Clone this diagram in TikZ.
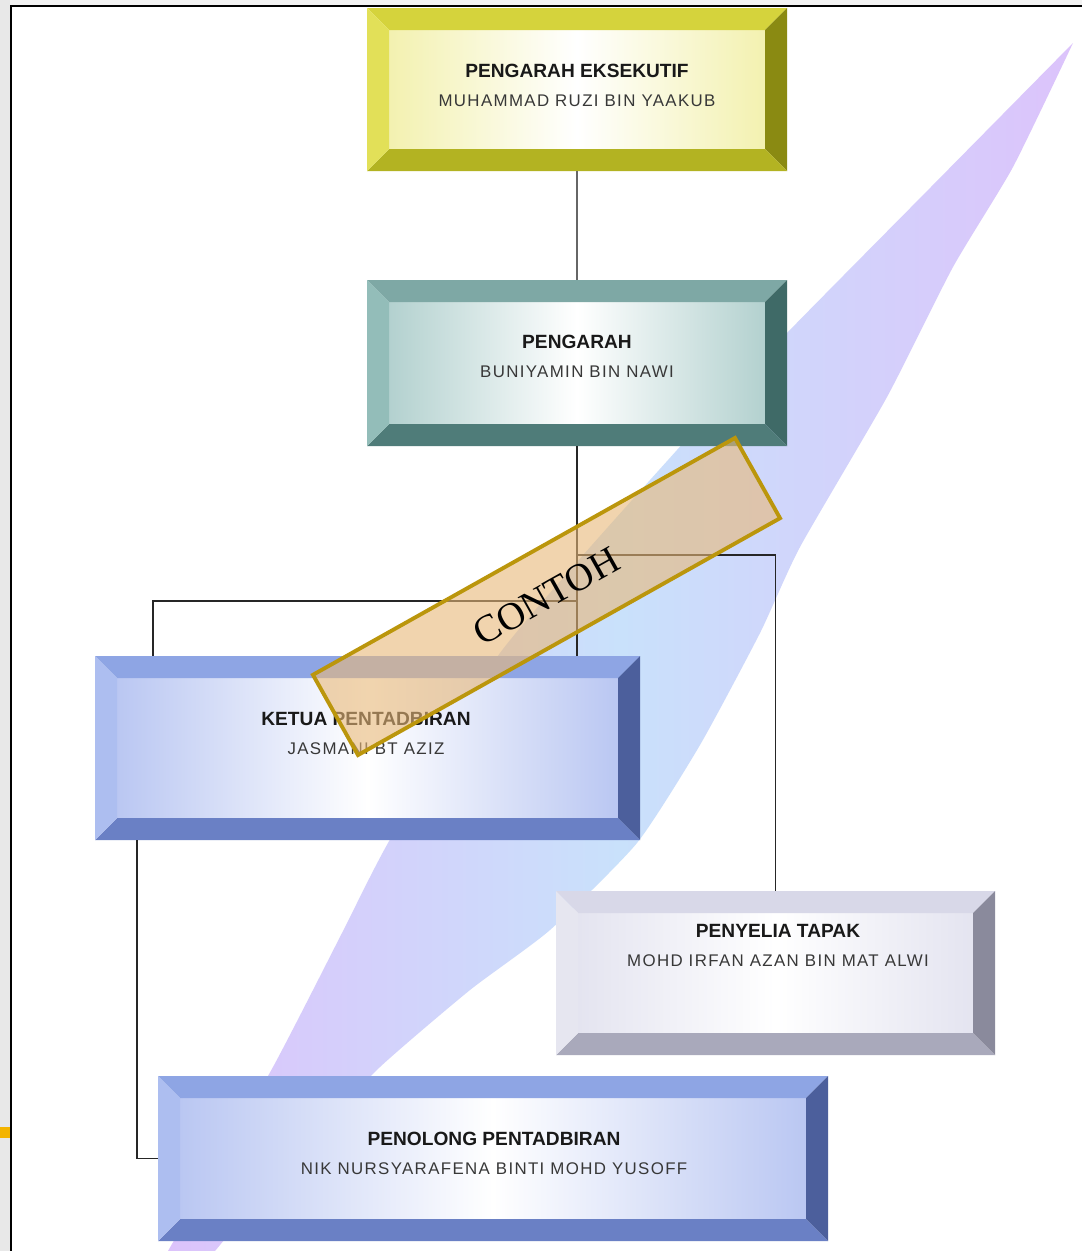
\documentclass[tikz,border=0pt]{standalone}
\usepackage{fontspec}
\setmainfont{Liberation Sans}
\newfontfamily\namefont[LetterSpace=8]{Liberation Sans}
\newfontfamily\stampfont{Liberation Serif}
\usetikzlibrary{calc}

\definecolor{peTop}{HTML}{D5D33C}
\definecolor{peLeft}{HTML}{E2E058}
\definecolor{peRight}{HTML}{8A8A12}
\definecolor{peBot}{HTML}{B3B322}
\definecolor{peTint}{HTML}{F3F1B0}
\definecolor{pgTop}{HTML}{7EA8A5}
\definecolor{pgLeft}{HTML}{93BDB9}
\definecolor{pgRight}{HTML}{3F6A67}
\definecolor{pgBot}{HTML}{4F7C79}
\definecolor{pgTint}{HTML}{B3D1CF}
\definecolor{ktTop}{HTML}{8EA5E4}
\definecolor{ktLeft}{HTML}{ADBEF0}
\definecolor{ktRight}{HTML}{4C5F9C}
\definecolor{ktBot}{HTML}{6A80C5}
\definecolor{ktTint}{HTML}{BAC7F2}
\definecolor{pyTop}{HTML}{D8D8E8}
\definecolor{pyLeft}{HTML}{E6E6F0}
\definecolor{pyRight}{HTML}{8A8A9C}
\definecolor{pyBot}{HTML}{A9A9BB}
\definecolor{pyTint}{HTML}{E4E4F0}
\definecolor{ribBlue}{HTML}{C9E1FB}
\definecolor{ribPurple}{HTML}{DCC3FB}
\definecolor{stampGold}{HTML}{BB960C}
\definecolor{stampFill}{HTML}{E8B878}
\definecolor{tabMark}{HTML}{F4B400}

\tikzset{
  bevelbox/.style n args={5}{
    rectangle, inner sep=0pt,
    path picture={
      \path (path picture bounding box.north west) coordinate (bb-nw)
            (path picture bounding box.north east) coordinate (bb-ne)
            (path picture bounding box.south east) coordinate (bb-se)
            (path picture bounding box.south west) coordinate (bb-sw);
      \shade[left color=#5, right color=#5, middle color=white]
        ($(bb-nw)+(22,22)$) rectangle ($(bb-se)+(-22,-22)$);
      \fill[#1] (bb-nw) -- (bb-ne) -- ($(bb-ne)+(-22,22)$) -- ($(bb-nw)+(22,22)$) -- cycle;
      \fill[#3] (bb-ne) -- (bb-se) -- ($(bb-se)+(-22,-22)$) -- ($(bb-ne)+(-22,22)$) -- cycle;
      \fill[#4] (bb-se) -- (bb-sw) -- ($(bb-sw)+(22,-22)$) -- ($(bb-se)+(-22,-22)$) -- cycle;
      \fill[#2] (bb-sw) -- (bb-nw) -- ($(bb-nw)+(22,22)$) -- ($(bb-sw)+(22,-22)$) -- cycle;
    }
  },
  size/.style 2 args={minimum width=#1*0.02cm, minimum height=#2*0.02cm},
}
\newcommand{\person}[1]{{\namefont\fontsize{9.6}{16.5}\selectfont\color{black!78}#1}}

\begin{document}
\begin{tikzpicture}[x=0.02cm,y=-0.02cm]
  \useasboundingbox (0,0) rectangle (1082,1251);
  \fill[white] (0,0) rectangle (1082,1251);
  \fill[black!9] (0,0) rectangle (10,1251);
  \fill[black!5] (10,0) rectangle (1082,5);
  \fill[tabMark] (0,1127) rectangle (10,1138);
  \draw[line width=1.1pt] (11,1251) -- (11,6) -- (1082,6);

  \shade[left color=ribPurple, right color=ribPurple, middle color=ribBlue]
    plot[smooth, tension=0.35] coordinates {(1073,43) (930,188) (787,333) (677,450)
      (500,653) (388,843) (342,933) (273,1067) (168,1251)}
    -- plot[smooth, tension=0.35] coordinates {(215,1251) (300,1150) (380,1067) (470,990)
      (550,930) (637,843) (700,745) (760,633) (800,547) (887,397) (953,267) (1013,167) (1073,43)}
    -- cycle;

  \begin{scope}[
    caption/.style={align=center, text=black!90,
      font=\fontsize{10.9}{16.5}\selectfont},
    ]
    \node[bevelbox={peTop}{peLeft}{peRight}{peBot}{peTint}, size={420}{163}] (pe) at (577,89.5) {};
    \node[bevelbox={pgTop}{pgLeft}{pgRight}{pgBot}{pgTint}, size={420}{166}] (pg) at (577,363) {};
    \node[bevelbox={ktTop}{ktLeft}{ktRight}{ktBot}{ktTint}, size={545}{184}] (kt) at (367.5,748) {};
    \node[bevelbox={pyTop}{pyLeft}{pyRight}{pyBot}{pyTint}, size={439}{164}] (py) at (775.5,973) {};
    \node[bevelbox={ktTop}{ktLeft}{ktRight}{ktBot}{ktTint}, size={670}{165}] (pn) at (493,1158.5) {};

    \node[caption] (pe-t) at (577,85) {\textbf{PENGARAH EKSEKUTIF}\\\person{MUHAMMAD RUZI BIN YAAKUB}};
    \node[caption] (pg-t) at (577,356) {\textbf{PENGARAH}\\\person{BUNIYAMIN BIN NAWI}};
    \node[caption] (kt-t) at (366,733) {\textbf{KETUA PENTADBIRAN}\\\person{JASMANI BT AZIZ}};
    \node[caption] (py-t) at (778,945) {\textbf{PENYELIA TAPAK}\\\person{MOHD IRFAN AZAN BIN MAT ALWI}};
    \node[caption] (pn-t) at (494,1153) {\textbf{PENOLONG PENTADBIRAN}\\\person{NIK NURSYARAFENA BINTI MOHD YUSOFF}};
  \end{scope}

  \begin{scope}[
    every path/.style={draw=black!85, line width=0.9pt},
    ]
    \coordinate (kt-fork) at (153,601);
    \coordinate (py-fork) at (py.north |- 0,555);
    \coordinate (pn-fork) at (pn.west -| 137,0);
    \path[draw=black!60, line width=1.2pt] (pe) -- (pg);
    \path (pg.south) -- (pg.south |- kt.north);
    \path (pg.south |- kt-fork) -- (kt-fork) -- (kt-fork |- kt.north);
    \path (pg.south |- py-fork) -- (py-fork) -- (py.north);
    \path (kt.south -| pn-fork) -- (pn-fork) -- (pn.west);
  \end{scope}

  \node[draw=stampGold, line width=2.2pt, fill=stampFill, fill opacity=0.6,
    text opacity=1, size={484}{92}, rotate=29.3,
    font=\fontsize{22}{26}\selectfont\stampfont] (contoh) at (546.5,596.5) {CONTOH};
\end{tikzpicture}
\end{document}
